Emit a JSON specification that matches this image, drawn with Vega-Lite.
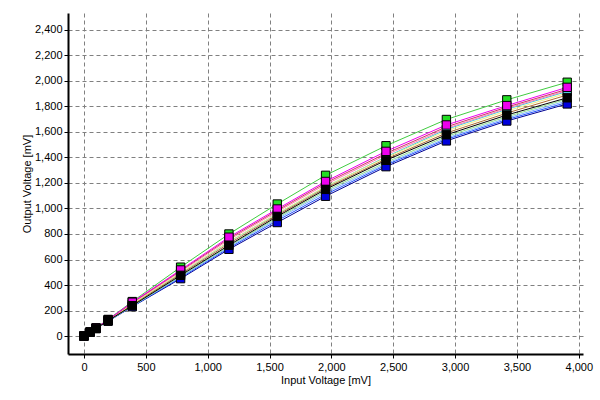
{
  "$schema": "https://vega.github.io/schema/vega-lite/v6.json",
  "width": 515,
  "height": 341,
  "autosize": "none",
  "padding": {"left": 68, "top": 13, "right": 17, "bottom": 46},
  "background": "white",
  "config": {
    "view": {"stroke": null},
    "axis": {
      "domainColor": "#000000",
      "domainWidth": 2,
      "tickColor": "#000000",
      "tickSize": 4,
      "gridColor": "#808080",
      "gridDash": [4, 3],
      "gridOpacity": 1,
      "gridWidth": 1,
      "labelFont": "Liberation Sans",
      "labelFontSize": 11,
      "labelColor": "#000000",
      "titleFont": "Liberation Sans",
      "titleFontSize": 11,
      "titleFontWeight": "normal",
      "titleColor": "#000000"
    }
  },
  "data": {"values": [
    {"series":"Navy","x":0,"y":0},{"series":"Navy","x":48.8,"y":29},{"series":"Navy","x":97.7,"y":58},{"series":"Navy","x":195.3,"y":116},{"series":"Navy","x":390.6,"y":230},{"series":"Navy","x":781.3,"y":450},{"series":"Navy","x":1171.9,"y":680},{"series":"Navy","x":1562.5,"y":890},{"series":"Navy","x":1953.1,"y":1096},{"series":"Navy","x":2441.4,"y":1328},{"series":"Navy","x":2929.7,"y":1530},{"series":"Navy","x":3418,"y":1686},{"series":"Navy","x":3906.3,"y":1820},
    {"series":"Blue","x":0,"y":0},{"series":"Blue","x":48.8,"y":29},{"series":"Blue","x":97.7,"y":58},{"series":"Blue","x":195.3,"y":117},{"series":"Blue","x":390.6,"y":232},{"series":"Blue","x":781.3,"y":458},{"series":"Blue","x":1171.9,"y":690},{"series":"Blue","x":1562.5,"y":905},{"series":"Blue","x":1953.1,"y":1110},{"series":"Blue","x":2441.4,"y":1340},{"series":"Blue","x":2929.7,"y":1542},{"series":"Blue","x":3418,"y":1697},{"series":"Blue","x":3906.3,"y":1832},
    {"series":"LightBlue","x":0,"y":0},{"series":"LightBlue","x":48.8,"y":29},{"series":"LightBlue","x":97.7,"y":59},{"series":"LightBlue","x":195.3,"y":118},{"series":"LightBlue","x":390.6,"y":234},{"series":"LightBlue","x":781.3,"y":465},{"series":"LightBlue","x":1171.9,"y":698},{"series":"LightBlue","x":1562.5,"y":918},{"series":"LightBlue","x":1953.1,"y":1125},{"series":"LightBlue","x":2441.4,"y":1350},{"series":"LightBlue","x":2929.7,"y":1552},{"series":"LightBlue","x":3418,"y":1708},{"series":"LightBlue","x":3906.3,"y":1845},
    {"series":"LightGreen","x":0,"y":0},{"series":"LightGreen","x":48.8,"y":29},{"series":"LightGreen","x":97.7,"y":59},{"series":"LightGreen","x":195.3,"y":119},{"series":"LightGreen","x":390.6,"y":236},{"series":"LightGreen","x":781.3,"y":470},{"series":"LightGreen","x":1171.9,"y":705},{"series":"LightGreen","x":1562.5,"y":928},{"series":"LightGreen","x":1953.1,"y":1138},{"series":"LightGreen","x":2441.4,"y":1362},{"series":"LightGreen","x":2929.7,"y":1565},{"series":"LightGreen","x":3418,"y":1720},{"series":"LightGreen","x":3906.3,"y":1858},
    {"series":"Cyan","x":0,"y":0},{"series":"Cyan","x":48.8,"y":30},{"series":"Cyan","x":97.7,"y":61},{"series":"Cyan","x":195.3,"y":124},{"series":"Cyan","x":390.6,"y":250},{"series":"Cyan","x":781.3,"y":492},{"series":"Cyan","x":1171.9,"y":738},{"series":"Cyan","x":1562.5,"y":958},{"series":"Cyan","x":1953.1,"y":1170},{"series":"Cyan","x":2441.4,"y":1405},{"series":"Cyan","x":2929.7,"y":1620},{"series":"Cyan","x":3418,"y":1778},{"series":"Cyan","x":3906.3,"y":1918},
    {"series":"Orange","x":0,"y":0},{"series":"Orange","x":48.8,"y":30},{"series":"Orange","x":97.7,"y":60},{"series":"Orange","x":195.3,"y":122},{"series":"Orange","x":390.6,"y":245},{"series":"Orange","x":781.3,"y":485},{"series":"Orange","x":1171.9,"y":725},{"series":"Orange","x":1562.5,"y":948},{"series":"Orange","x":1953.1,"y":1160},{"series":"Orange","x":2441.4,"y":1388},{"series":"Orange","x":2929.7,"y":1592},{"series":"Orange","x":3418,"y":1748},{"series":"Orange","x":3906.3,"y":1890},
    {"series":"Yellow","x":0,"y":0},{"series":"Yellow","x":48.8,"y":30},{"series":"Yellow","x":97.7,"y":61},{"series":"Yellow","x":195.3,"y":124},{"series":"Yellow","x":390.6,"y":252},{"series":"Yellow","x":781.3,"y":495},{"series":"Yellow","x":1171.9,"y":740},{"series":"Yellow","x":1562.5,"y":960},{"series":"Yellow","x":1953.1,"y":1172},{"series":"Yellow","x":2441.4,"y":1400},{"series":"Yellow","x":2929.7,"y":1608},{"series":"Yellow","x":3418,"y":1765},{"series":"Yellow","x":3906.3,"y":1905},
    {"series":"Pink","x":0,"y":0},{"series":"Pink","x":48.8,"y":31},{"series":"Pink","x":97.7,"y":62},{"series":"Pink","x":195.3,"y":126},{"series":"Pink","x":390.6,"y":258},{"series":"Pink","x":781.3,"y":505},{"series":"Pink","x":1171.9,"y":755},{"series":"Pink","x":1562.5,"y":975},{"series":"Pink","x":1953.1,"y":1188},{"series":"Pink","x":2441.4,"y":1420},{"series":"Pink","x":2929.7,"y":1628},{"series":"Pink","x":3418,"y":1785},{"series":"Pink","x":3906.3,"y":1925},
    {"series":"Crimson","x":0,"y":0},{"series":"Crimson","x":48.8,"y":31},{"series":"Crimson","x":97.7,"y":62},{"series":"Crimson","x":195.3,"y":127},{"series":"Crimson","x":390.6,"y":262},{"series":"Crimson","x":781.3,"y":512},{"series":"Crimson","x":1171.9,"y":765},{"series":"Crimson","x":1562.5,"y":985},{"series":"Crimson","x":1953.1,"y":1200},{"series":"Crimson","x":2441.4,"y":1432},{"series":"Crimson","x":2929.7,"y":1640},{"series":"Crimson","x":3418,"y":1795},{"series":"Crimson","x":3906.3,"y":1935},
    {"series":"Green","x":0,"y":0},{"series":"Green","x":48.8,"y":32},{"series":"Green","x":97.7,"y":64},{"series":"Green","x":195.3,"y":130},{"series":"Green","x":390.6,"y":270},{"series":"Green","x":781.3,"y":540},{"series":"Green","x":1171.9,"y":800},{"series":"Green","x":1562.5,"y":1035},{"series":"Green","x":1953.1,"y":1260},{"series":"Green","x":2441.4,"y":1492},{"series":"Green","x":2929.7,"y":1698},{"series":"Green","x":3418,"y":1852},{"series":"Green","x":3906.3,"y":1990},
    {"series":"Magenta","x":0,"y":0},{"series":"Magenta","x":48.8,"y":31},{"series":"Magenta","x":97.7,"y":63},{"series":"Magenta","x":195.3,"y":128},{"series":"Magenta","x":390.6,"y":265},{"series":"Magenta","x":781.3,"y":518},{"series":"Magenta","x":1171.9,"y":775},{"series":"Magenta","x":1562.5,"y":996},{"series":"Magenta","x":1953.1,"y":1212},{"series":"Magenta","x":2441.4,"y":1448},{"series":"Magenta","x":2929.7,"y":1655},{"series":"Magenta","x":3418,"y":1807},{"series":"Magenta","x":3906.3,"y":1950},
    {"series":"Black","x":0,"y":0},{"series":"Black","x":48.8,"y":30},{"series":"Black","x":97.7,"y":60},{"series":"Black","x":195.3,"y":120},{"series":"Black","x":390.6,"y":238},{"series":"Black","x":781.3,"y":476},{"series":"Black","x":1171.9,"y":712},{"series":"Black","x":1562.5,"y":938},{"series":"Black","x":1953.1,"y":1150},{"series":"Black","x":2441.4,"y":1378},{"series":"Black","x":2929.7,"y":1578},{"series":"Black","x":3418,"y":1733},{"series":"Black","x":3906.3,"y":1868}
  ]},
  "encoding": {
    "x": {
      "field": "x", "type": "quantitative",
      "scale": {"domain": [-129, 4034], "nice": false, "zero": false},
      "axis": {"title": "Input Voltage [mV]", "values": [0, 500, 1000, 1500, 2000, 2500, 3000, 3500, 4000], "format": ",.0f", "labelPadding": 3, "titlePadding": 2}
    },
    "y": {
      "field": "y", "type": "quantitative",
      "scale": {"domain": [-141, 2533], "nice": false, "zero": false},
      "axis": {"title": "Output Voltage [mV]", "values": [0, 200, 400, 600, 800, 1000, 1200, 1400, 1600, 1800, 2000, 2200, 2400], "format": ",.0f", "labelPadding": 2, "titlePadding": 2}
    }
  },
  "layer": [
    {
      "mark": {"type": "line", "strokeWidth": 1},
      "encoding": {
        "color": {
          "field": "series", "type": "nominal", "legend": null,
          "scale": {
            "domain": ["Navy", "Blue", "LightBlue", "LightGreen", "Cyan", "Orange", "Yellow", "Pink", "Crimson", "Green", "Magenta", "Black"],
            "range": ["#000090", "#2050ff", "#80b0ff", "#90e090", "#40c8e0", "#b06a30", "#f0f080", "#ff80b0", "#cc3366", "#40cc40", "#ee00ee", "#000000"]
          }
        }
      }
    },
    {
      "transform": [{"filter": {"field": "series", "oneOf": ["Navy", "Cyan", "Green", "Magenta", "Black"]}}],
      "mark": {"type": "point", "shape": "square", "filled": true, "size": 70, "stroke": "#000000", "strokeWidth": 1, "opacity": 1},
      "encoding": {
        "fill": {
          "field": "series", "type": "nominal", "legend": null,
          "scale": {
            "domain": ["Navy", "Cyan", "Green", "Magenta", "Black"],
            "range": ["#0000dd", "#50d0e0", "#22dd22", "#ee00ee", "#000000"]
          }
        }
      }
    }
  ]
}
